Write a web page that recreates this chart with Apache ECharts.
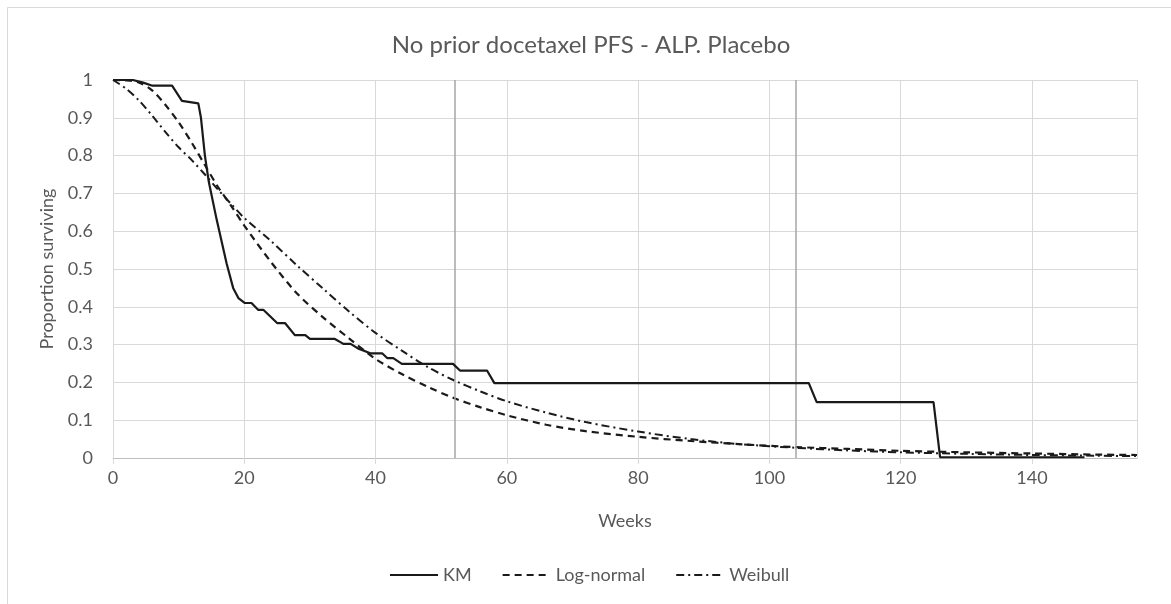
<!DOCTYPE html>
<html>
<head>
<meta charset="utf-8">
<script src="https://cdn.jsdelivr.net/npm/echarts@6/dist/echarts.min.js"></script>
<style>
html,body{margin:0;padding:0;background:#fff;}
#chart{width:1171px;height:604px;}
</style>
</head>
<body>
<div id="chart"></div>
<script>
// Kaplan-Meier estimate (weeks, proportion surviving)
var kmWeeks = [0,3,4.6,6,9,10.5,13,13.4,14,14.6,15.8,17.3,18.3,19.1,20.1,21.1,22.1,22.9,25,26.2,27.7,29.3,30,33.8,35.1,36.2,37.3,39.2,41,41.8,42.7,44,51.8,52.9,57,58.1,106,107.2,125,126,148];
var kmValues = [1,1,0.993,0.985,0.985,0.945,0.938,0.9,0.8,0.73,0.63,0.515,0.45,0.423,0.41,0.41,0.392,0.392,0.357,0.357,0.325,0.325,0.315,0.315,0.302,0.302,0.29,0.277,0.277,0.264,0.264,0.249,0.249,0.231,0.231,0.198,0.198,0.148,0.148,0.002,0.002];

// Fitted curves, read at these weeks
var fitWeeks = [0,2,4,6,8,10,12,14,16,18,20,24,28,32,36,40,44,48,52,56,60,66,72,80,88,96,104,112,120,130,140,150,156];
var logNormal = [1,0.999,0.993,0.972,0.934,0.888,0.834,0.775,0.717,0.667,0.615,0.52,0.436,0.372,0.316,0.262,0.222,0.188,0.158,0.134,0.113,0.088,0.071,0.056,0.045,0.036,0.029,0.024,0.019,0.015,0.012,0.009,0.008];
var weibull = [1,0.977,0.945,0.905,0.862,0.822,0.788,0.75,0.71,0.672,0.635,0.575,0.51,0.448,0.387,0.331,0.284,0.24,0.205,0.176,0.15,0.12,0.095,0.07,0.05,0.036,0.027,0.02,0.015,0.011,0.008,0.006,0.005];

// Reference lines (1 and 2 years)
var refLines = [52, 104];

var seriesNames = ['KM', 'Log-normal', 'Weibull'];

function pairs(xs, ys){ return xs.map(function(x,i){ return [x, ys[i]]; }); }

var FONT = 'Lato';
var GRAY = '#595959';
var LINE = '#1a1a1a';

var chart = echarts.init(document.getElementById('chart'), null, {renderer:'canvas'});
chart.setOption({
  backgroundColor: '#fff',
  animation: false,
  graphic: [{
    type: 'rect', silent: true, z: -10,
    shape: {x: 7.5, y: 7.5, width: 1200, height: 620},
    style: {fill: 'none', stroke: '#d9d9d9', lineWidth: 1}
  }],
  title: {
    text: 'No prior docetaxel PFS - ALP. Placebo',
    left: 586, top: 28, textAlign: 'center',
    textStyle: {fontFamily: FONT, fontSize: 24, fontWeight: 'normal', color: GRAY}
  },
  legend: {
    data: seriesNames,
    bottom: 15, left: 384,
    itemWidth: 48, itemHeight: 2, itemGap: 30,
    itemStyle: {opacity: 0},
    textStyle: {fontFamily: FONT, fontSize: 18, color: GRAY}
  },
  grid: {left: 113, right: 34, top: 80, bottom: 146, containLabel: false},
  xAxis: {
    type: 'value', min: 0, max: 156, interval: 20,
    name: 'Weeks', nameLocation: 'middle', nameGap: 54,
    nameTextStyle: {fontFamily: FONT, fontSize: 18, color: GRAY},
    axisLine: {show: true, lineStyle: {color: '#bfbfbf', width: 1}},
    axisTick: {show: true, length: 6, lineStyle: {color: '#d9d9d9'}},
    axisLabel: {fontFamily: FONT, fontSize: 18, color: GRAY, margin: 11, showMaxLabel: false,
      formatter: function(v){ return v === 156 ? '' : String(v); }},
    splitLine: {show: true, lineStyle: {color: '#d9d9d9', width: 1}}
  },
  yAxis: {
    type: 'value', min: 0, max: 1, interval: 0.1,
    name: 'Proportion surviving', nameLocation: 'middle', nameGap: 57, nameRotate: 90,
    nameTextStyle: {fontFamily: FONT, fontSize: 18, color: GRAY},
    axisLine: {show: false},
    axisTick: {show: false},
    axisLabel: {fontFamily: FONT, fontSize: 18, color: GRAY, margin: 20,
      formatter: function(v){ return String(Math.round(v*10)/10); }},
    splitLine: {show: true, lineStyle: {color: '#d9d9d9', width: 1}}
  },
  series: [
    {
      name: seriesNames[0], type: 'line', data: pairs(kmWeeks, kmValues),
      showSymbol: false, symbol: 'none', z: 5,
      lineStyle: {color: LINE, width: 2.2, type: 'solid'},
      itemStyle: {color: LINE},
      markLine: {
        silent: true, symbol: ['none','none'], label: {show: false},
        lineStyle: {color: '#a6a6a6', width: 1.5, type: 'solid'},
        data: refLines.map(function(w){ return {xAxis: w}; })
      }
    },
    {
      name: seriesNames[1], type: 'line', data: pairs(fitWeeks, logNormal),
      showSymbol: false, symbol: 'none', smooth: 0.3, z: 4,
      lineStyle: {color: LINE, width: 2.2, type: [7, 5]},
      itemStyle: {color: LINE}
    },
    {
      name: seriesNames[2], type: 'line', data: pairs(fitWeeks, weibull),
      showSymbol: false, symbol: 'none', smooth: 0.3, z: 4,
      lineStyle: {color: LINE, width: 2, type: [8, 4, 2, 4]},
      itemStyle: {color: LINE}
    }
  ]
});
</script>
</body>
</html>
